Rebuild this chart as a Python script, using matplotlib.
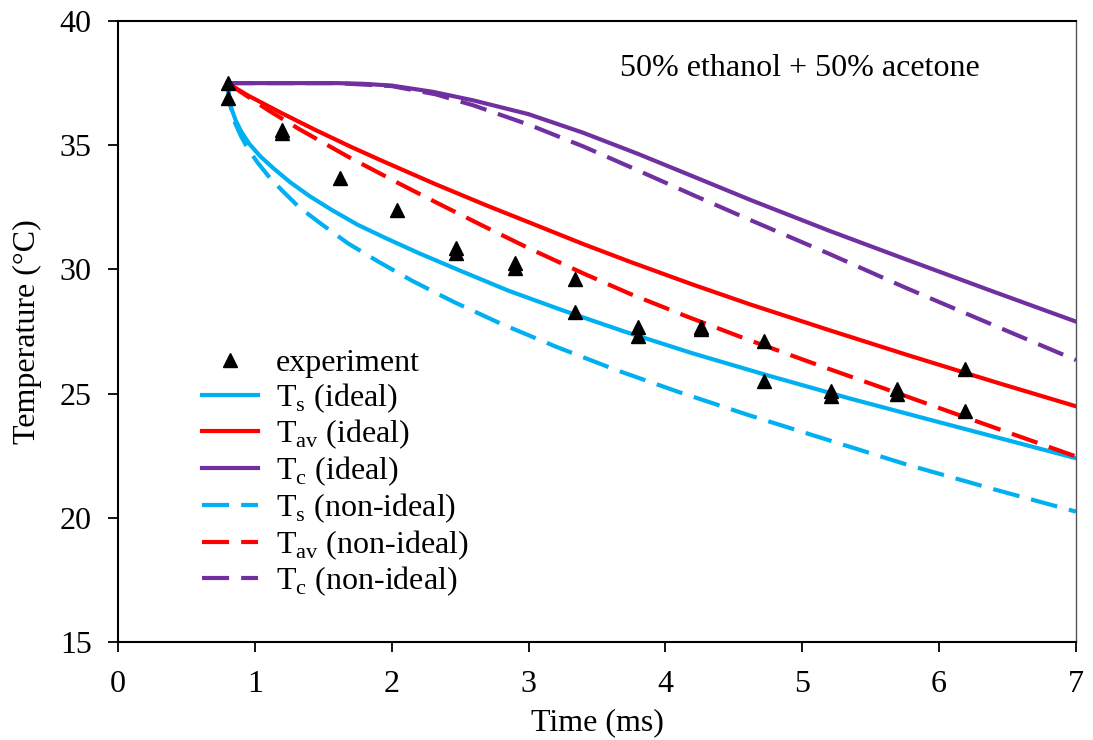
import matplotlib
matplotlib.use('Agg')
import numpy as np
import matplotlib.pyplot as plt

plt.rcParams['font.family'] = ['Liberation Serif', 'DejaVu Serif']
plt.rcParams['mathtext.fontset'] = 'custom'
plt.rcParams['mathtext.rm'] = 'Liberation Serif'

# experiment points (ms, degC)
t_exp = [0.80, 0.80, 1.20, 1.20, 1.62, 2.04, 2.47, 2.47, 2.90, 2.90, 3.34, 3.34,
         3.80, 3.80, 4.26, 4.26, 4.72, 4.72, 5.21, 5.21, 5.69, 5.69, 6.19, 6.19]
T_exp = [37.5, 36.9, 35.6, 35.5, 33.7, 32.4, 30.85, 30.65, 30.25, 30.05, 29.6, 28.3,
         27.7, 27.3, 27.7, 27.6, 27.1, 25.5, 25.1, 24.9, 25.2, 25.0, 26.0, 24.3]

# T_s, ideal
t_s_id = [0.80, 0.81, 0.83, 0.86, 0.90, 0.96, 1.04, 1.14, 1.26, 1.40, 1.56, 1.75,
          1.96, 2.20, 2.50, 2.85, 3.25, 3.70, 4.20, 4.75, 5.35, 6.00, 7.00]
T_s_id = [37.5, 36.9, 36.45, 36.0, 35.55, 35.05, 34.55, 34.05, 33.5, 32.95, 32.4, 31.8,
          31.25, 30.65, 29.95, 29.15, 28.35, 27.5, 26.62, 25.73, 24.8, 23.85, 22.4]

# T_av, ideal
t_av_id = [0.80, 0.95, 1.20, 1.44, 1.70, 1.93, 2.32, 2.70, 3.01, 3.40, 3.74, 4.20,
           4.62, 5.20, 5.76, 6.40, 7.00]
T_av_id = [37.5, 37.0, 36.28, 35.62, 34.94, 34.37, 33.43, 32.56, 31.88, 31.02, 30.31, 29.39,
           28.59, 27.55, 26.57, 25.48, 24.49]

# T_c, ideal
t_c_id = [0.80, 1.20, 1.60, 1.80, 2.00, 2.30, 2.60, 3.00, 3.40, 3.80, 4.20, 4.62,
          5.20, 5.76, 6.40, 7.00]
T_c_id = [37.5, 37.5, 37.5, 37.47, 37.4, 37.15, 36.8, 36.25, 35.5, 34.65, 33.75, 32.8,
          31.55, 30.4, 29.1, 27.9]

# T_s, non-ideal
t_s_ni = [0.80, 0.82, 0.855, 0.90, 0.95, 1.02, 1.10, 1.20, 1.32, 1.48, 1.68, 1.90,
          2.15, 2.45, 2.80, 3.20, 3.64, 4.10, 4.60, 5.15, 5.76, 6.40, 7.00]
T_s_ni = [37.5, 36.6, 35.9, 35.35, 34.85, 34.3, 33.75, 33.17, 32.52, 31.85, 31.05, 30.32,
          29.54, 28.7, 27.81, 26.89, 25.95, 25.06, 24.15, 23.2, 22.15, 21.15, 20.25]

# T_av, non-ideal
t_av_ni = [0.80, 0.95, 1.10, 1.32, 1.68, 2.05, 2.32, 2.65, 3.01, 3.40, 3.74, 4.15,
           4.57, 5.10, 5.69, 6.19, 6.60, 7.00]
T_av_ni = [37.5, 36.95, 36.4, 35.66, 34.54, 33.47, 32.71, 31.8, 30.83, 29.84, 29.02, 28.12,
           27.24, 26.18, 25.03, 24.05, 23.25, 22.47]

# T_c, non-ideal
t_c_ni = [0.80, 1.20, 1.60, 2.00, 2.32, 2.60, 3.01, 3.40, 3.74, 4.20, 4.62, 5.20,
          5.76, 6.40, 7.00]
T_c_ni = [37.5, 37.5, 37.5, 37.38, 37.05, 36.6, 35.81, 34.95, 34.13, 33.0, 31.99, 30.62,
          29.25, 27.75, 26.35]

blue = '#00B0F0'
red = '#FF0000'
purple = '#7030A0'
lw = 3.0
dash = (6.5, 2.9)
fs = 23

fig = plt.figure(figsize=(10.93, 7.40), dpi=100)
ax = fig.add_axes([0.108, 0.1324, 0.8764, 0.8392])

l1, = ax.plot(t_s_id, T_s_id, color=blue, lw=lw)
l2, = ax.plot(t_av_id, T_av_id, color=red, lw=lw)
l3, = ax.plot(t_c_id, T_c_id, color=purple, lw=lw)
l4, = ax.plot(t_s_ni, T_s_ni, color=blue, lw=lw, dashes=dash)
l5, = ax.plot(t_av_ni, T_av_ni, color=red, lw=lw, dashes=dash)
l6, = ax.plot(t_c_ni, T_c_ni, color=purple, lw=lw, dashes=dash)
p0, = ax.plot(t_exp, T_exp, ls='none', marker='^', ms=10, color='black', zorder=5)

ax.set_xlim(0, 7)
ax.set_ylim(15, 40)
ax.set_xticks(np.arange(0, 8, 1))
ax.set_yticks(np.arange(15, 41, 5))
ax.tick_params(direction='out', length=7, width=1.3, labelsize=fs)
ax.tick_params(axis='x', pad=13)
ax.tick_params(axis='y', pad=12)
for s in ['left', 'bottom', 'top']:
    ax.spines[s].set_linewidth(1.5)
ax.spines['right'].set_linewidth(1.0)
ax.spines['right'].set_color('#555555')

ax.set_xlabel('Time (ms)', fontsize=fs, labelpad=7)
ax.set_ylabel('Temperature (°C)', fontsize=fs, labelpad=13)

ax.text(4.98, 38.1, '50% ethanol + 50% acetone', fontsize=fs, ha='center', va='center')

labels = ['experiment',
          r'T$_\mathregular{s}$ (ideal)',
          r'T$_\mathregular{av}$ (ideal)',
          r'T$_\mathregular{c}$ (ideal)',
          r'T$_\mathregular{s}$ (non-ideal)',
          r'T$_\mathregular{av}$ (non-ideal)',
          r'T$_\mathregular{c}$ (non-ideal)']
ax.legend([p0, l1, l2, l3, l4, l5, l6], labels, loc='center left',
          bbox_to_anchor=(0.058, 0.2715), frameon=False, fontsize=fs,
          handlelength=1.75, handletextpad=0.55, labelspacing=0.1,
          borderpad=0.4, numpoints=1)

plt.savefig('out.png', dpi=100)
